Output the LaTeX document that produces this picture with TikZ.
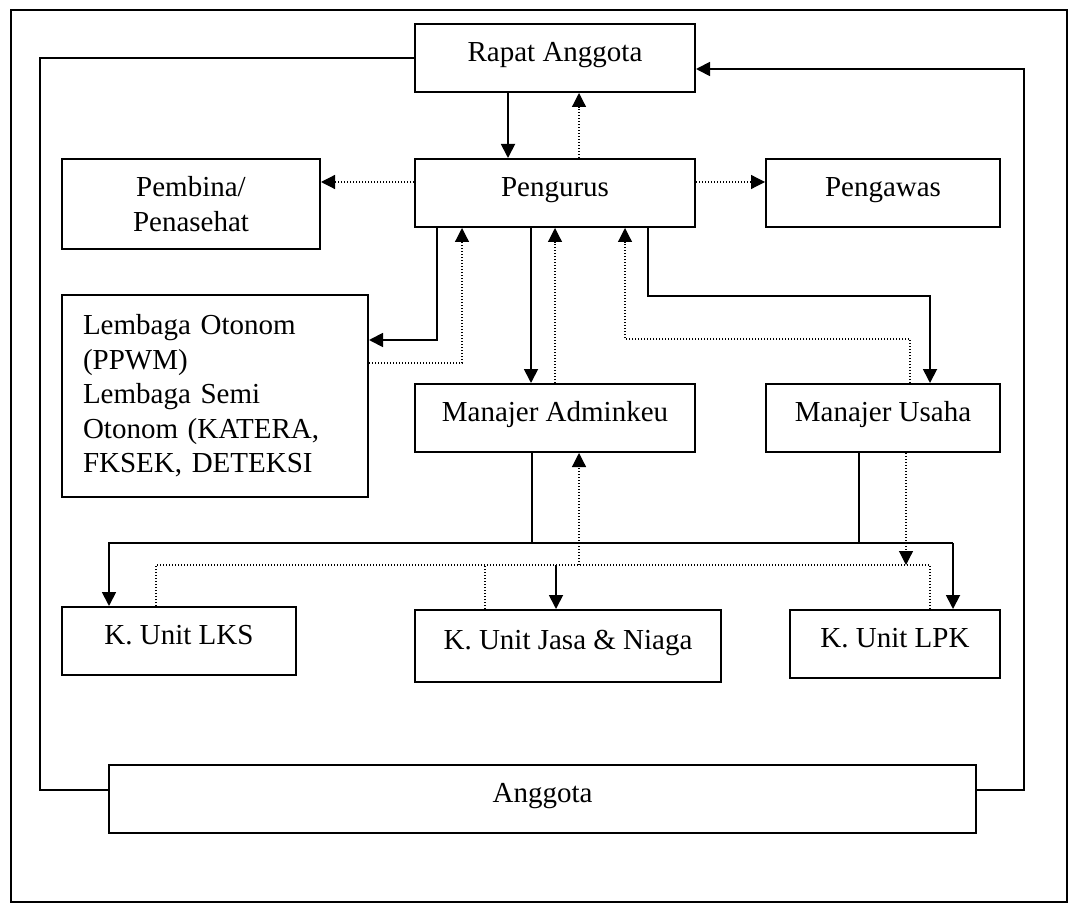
\documentclass[tikz,border=0pt]{standalone}
\usepackage{fontspec}
\setmainfont{Liberation Serif}
\usetikzlibrary{arrows.meta}

\begin{document}
\begin{tikzpicture}[x=0.5pt, y=-0.5pt,
  box/.style={draw, line width=1pt, inner sep=0pt, font=\fontsize{14.5}{17.25}\selectfont},
  onerow/.style={text height=10pt, text depth=6.5pt},
  sline/.style={line width=0.9pt},
  dline/.style={line width=0.6pt, dash pattern=on 0.6pt off 0.9pt},
  tip/.style={-{Triangle[length=7pt, width=7pt]}}]
\useasboundingbox (0,0) rectangle (1069,903);
\draw[line width=0.75pt] (11,10) rectangle (1067,902);
% boxes
\node[box, onerow, minimum width=140pt, minimum height=34pt] (rapat) at (555,58) {Rapat Anggota};
\node[box, onerow, minimum width=140pt, minimum height=34pt] (pengurus) at (555,193) {Pengurus};
\node[box, align=center, minimum width=129pt, minimum height=45pt] (pembina) at (191,204) {Pembina/\\Penasehat};
\node[box, onerow, minimum width=117pt, minimum height=34pt] (pengawas) at (883,193) {Pengawas};
\node[box, align=left, text width=132pt, inner xsep=10.5pt, minimum height=101pt] (lembaga) at (215,396)
  {Lembaga Otonom\\(PPWM)\\Lembaga Semi\\Otonom (KATERA,\\FKSEK, DETEKSI};
\node[box, onerow, minimum width=140pt, minimum height=34pt] (adminkeu) at (555,418) {Manajer Adminkeu};
\node[box, onerow, minimum width=117pt, minimum height=34pt] (usaha) at (883,418) {Manajer Usaha};
\node[box, onerow, minimum width=117pt, minimum height=34pt] (lks) at (179,641) {K. Unit LKS};
\node[box, onerow, minimum width=153pt, minimum height=36pt] (jasa) at (568,646) {K. Unit Jasa \& Niaga};
\node[box, onerow, minimum width=105pt, minimum height=34pt] (lpk) at (895,644) {K. Unit LPK};
\node[box, onerow, minimum width=433.5pt, minimum height=34pt] (anggota) at (542.5,799) {Anggota};
% rails round the chart
\coordinate (lrail) at (40,0);
\coordinate (rrail) at (1024,0);
\draw[sline] (rapat.west) -- (rapat.west -| lrail) -- ([yshift=4.5pt]anggota.west -| lrail) -- ([yshift=4.5pt]anggota.west);
\draw[sline, tip] ([yshift=4.5pt]anggota.east) -- ([yshift=4.5pt]anggota.east -| rrail) -- ([yshift=-5.5pt]rapat.east -| rrail) -- ([yshift=-5.5pt]rapat.east);
% rapat and pengurus
\draw[sline, tip] ([xshift=-23.5pt]rapat.south) -- ([xshift=-23.5pt]pengurus.north);
\draw[dline, tip] ([xshift=12pt]pengurus.north) -- ([xshift=12pt]rapat.south);
\draw[dline, tip] ([yshift=5.5pt]pengurus.west) -- ([yshift=5.5pt]pengurus.west -| pembina.east);
\draw[dline, tip] ([yshift=5.5pt]pengurus.east) -- ([yshift=5.5pt]pengurus.east -| pengawas.west);
% pengurus down to lembaga and managers
\draw[sline, tip] ([xshift=-59pt]pengurus.south) |- ([yshift=28pt]lembaga.east);
\draw[dline, tip] ([yshift=16.5pt]lembaga.east) -| ([xshift=-46.5pt]pengurus.south);
\draw[sline, tip] ([xshift=-12pt]pengurus.south) -- ([xshift=-12pt]adminkeu.north);
\draw[dline, tip] (adminkeu.north) -- (pengurus.south);
\draw[sline, tip] ([xshift=46.5pt]pengurus.south) -- ++(0,68) -| ([xshift=23.5pt]usaha.north);
\draw[dline, tip] ([xshift=13.5pt]usaha.north) -- ++(0,-44) -| ([xshift=35pt]pengurus.south);
% managers down to units
\draw[sline] ([xshift=-11.5pt]adminkeu.south) -- ++(0,90) coordinate (bus);
\coordinate (dbus) at (0,565);
\draw[sline] ([xshift=-12pt]usaha.south) -- ([xshift=-12pt]usaha.south |- bus);
\draw[sline, tip] ([xshift=29pt]lpk.north |- bus) -- ([xshift=-35pt]lks.north |- bus) -- ([xshift=-35pt]lks.north);
\draw[sline, tip] ([xshift=29pt]lpk.north |- bus) -- ([xshift=29pt]lpk.north);
\draw[sline, tip] ([xshift=-6pt]jasa.north |- dbus) -- ([xshift=-6pt]jasa.north);
\draw[dline] ([xshift=-11.5pt]lks.north) |- ([xshift=17.5pt]lpk.north |- dbus) -- ([xshift=17.5pt]lpk.north);
\draw[dline] ([xshift=-41.5pt]jasa.north) -- ([xshift=-41.5pt]jasa.north |- dbus);
\draw[dline, tip] ([xshift=12pt]adminkeu.south |- dbus) -- ([xshift=12pt]adminkeu.south);
\draw[dline, tip] ([xshift=11.5pt]usaha.south) -- ([xshift=11.5pt]usaha.south |- dbus);
\end{tikzpicture}
\end{document}
